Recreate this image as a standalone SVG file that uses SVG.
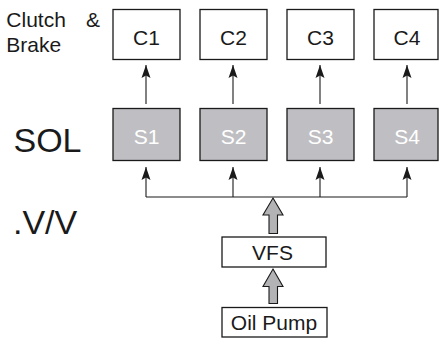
<svg xmlns="http://www.w3.org/2000/svg" width="439" height="338" viewBox="0 0 439 338">
<defs>
<marker id="ah" viewBox="0 0 13 10" refX="13" refY="5" markerWidth="13" markerHeight="10" markerUnits="userSpaceOnUse" orient="auto">
<path d="M0,0.5 L13,5 L0,9.5 L2.5,5 Z" fill="#1a1a1a"/>
</marker>
</defs>
<style>
text{font-family:"Liberation Sans",Arial,sans-serif;fill:#1a1a1a}
.box{fill:#fff;stroke:#1a1a1a;stroke-width:1.3}
.sbox{fill:#bfbfc3;stroke:#1a1a1a;stroke-width:1.3}
.lbl{font-size:21px;text-anchor:middle}
.slbl{font-size:21px;text-anchor:middle;fill:#fff}
.ln{fill:none;stroke:#1a1a1a;stroke-width:1.1}
.big{fill:#b3b3b5;stroke:#1a1a1a;stroke-width:1.1}
</style>
<text x="6.3" y="27" font-size="21">Clutch</text>
<text x="86" y="27" font-size="21">&amp;</text>
<text x="6.3" y="52.3" font-size="21">Brake</text>
<text x="13.5" y="152.3" font-size="34">SOL</text>
<text x="13" y="234" font-size="34">.V/V</text>
<g id="C1"><rect class="box" x="113" y="9.5" width="67" height="50"/><text class="lbl" x="146.5" y="45">C1</text></g>
<g id="C2"><rect class="box" x="200" y="9.5" width="67" height="50"/><text class="lbl" x="233.5" y="45">C2</text></g>
<g id="C3"><rect class="box" x="287" y="9.5" width="67" height="50"/><text class="lbl" x="320.5" y="45">C3</text></g>
<g id="C4"><rect class="box" x="374" y="9.5" width="64" height="50"/><text class="lbl" x="407" y="45">C4</text></g>
<g id="S1"><rect class="sbox" x="113" y="108.5" width="67" height="52"/><text class="slbl" x="146.5" y="144">S1</text></g>
<g id="S2"><rect class="sbox" x="200" y="108.5" width="67" height="52"/><text class="slbl" x="233.5" y="144">S2</text></g>
<g id="S3"><rect class="sbox" x="287" y="108.5" width="67" height="52"/><text class="slbl" x="320.5" y="144">S3</text></g>
<g id="S4"><rect class="sbox" x="374" y="108.5" width="64" height="52"/><text class="slbl" x="407" y="144">S4</text></g>
<g id="VFS"><rect class="box" x="222" y="237" width="104" height="30"/><text class="lbl" x="272.5" y="259.5">VFS</text></g>
<g id="OilPump"><rect class="box" x="222" y="307.5" width="105" height="29.5"/><text class="lbl" x="274" y="329.5">Oil Pump</text></g>
<g id="connectors">
<line class="ln" x1="146" y1="104" x2="146" y2="65" marker-end="url(#ah)"/>
<line class="ln" x1="233" y1="104" x2="233" y2="65" marker-end="url(#ah)"/>
<line class="ln" x1="320" y1="104" x2="320" y2="65" marker-end="url(#ah)"/>
<line class="ln" x1="407" y1="104" x2="407" y2="65" marker-end="url(#ah)"/>
<path class="ln" d="M146,197 H407"/>
<line class="ln" x1="146" y1="197" x2="146" y2="167" marker-end="url(#ah)"/>
<line class="ln" x1="233" y1="197" x2="233" y2="167" marker-end="url(#ah)"/>
<line class="ln" x1="320" y1="197" x2="320" y2="167" marker-end="url(#ah)"/>
<line class="ln" x1="407" y1="197" x2="407" y2="167" marker-end="url(#ah)"/>
<path class="big" d="M273,198 L283,215 L277.5,215 L277.5,233.5 L269,233.5 L269,215 L263,215 Z"/>
<path class="big" d="M273,269 L283,286.5 L277.5,286.5 L277.5,303.5 L269,303.5 L269,286.5 L263,286.5 Z"/>
</g>
</svg>
